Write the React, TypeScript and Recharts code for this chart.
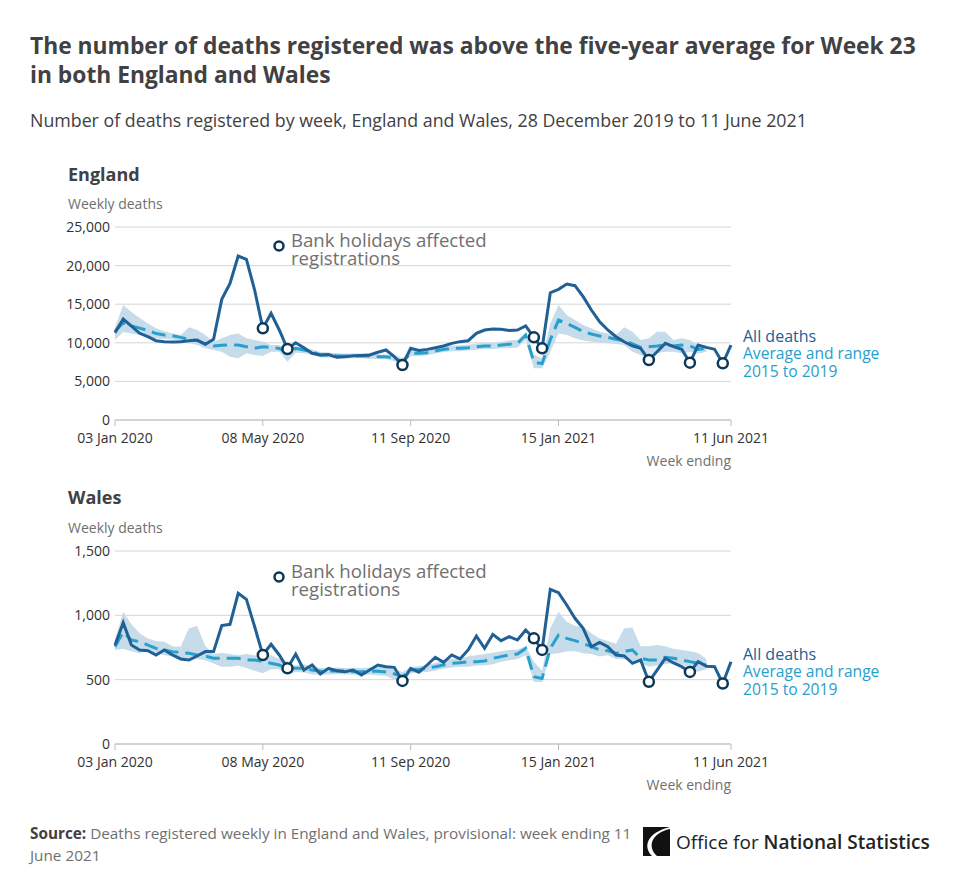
import React from "react";
import {
  ComposedChart,
  Line,
  Area,
  XAxis,
  YAxis,
  CartesianGrid,
} from "recharts";

// week ending dates, 03 Jan 2020 .. 11 Jun 2021 (76 weeks)
const MONTHS = ["Jan", "Feb", "Mar", "Apr", "May", "Jun", "Jul", "Aug", "Sep", "Oct", "Nov", "Dec"];
const weeks: string[] = Array.from({ length: 76 }, (_, i) => {
  const d = new Date(Date.UTC(2020, 0, 3 + i * 7));
  return `${String(d.getUTCDate()).padStart(2, "0")} ${MONTHS[d.getUTCMonth()]} ${d.getUTCFullYear()}`;
});

const xTicks = ["03 Jan 2020", "08 May 2020", "11 Sep 2020", "15 Jan 2021", "11 Jun 2021"];

// weeks where bank holidays affected registrations (index into weeks)
const bankHolidayWeeks = [18, 21, 35, 51, 52, 65, 70, 74];

const englandAll = [
  11300, 13080, 12170, 11230, 10790, 10270, 10140, 10100, 10140, 10270,
  10360, 9800, 10450, 15630, 17700, 21240, 20800, 16840, 11870, 13820,
  11660, 9200, 10010, 9370, 8640, 8420, 8480, 8120, 8200, 8330,
  8370, 8420, 8770, 9070, 8200, 7120, 9280, 9000, 9150, 9370,
  9590, 9930, 10150, 10270, 11230, 11660, 11790, 11750, 11600, 11660,
  12180, 10710, 9280, 16490, 16920, 17620, 17400, 15970, 14250, 12730,
  11660, 10790, 10140, 9590, 9280, 7770, 8850, 9930, 9500, 9150,
  7430, 9710, 9410, 9150, 7340, 9710,
];

const englandAvg = [
  11500, 12600, 12200, 11900, 11600, 11200, 11000, 10900, 10700, 10450,
  10280, 9850, 9600, 9670, 9720, 9720, 9500, 9280, 9500, 9400,
  9280, 8640, 9280, 9070, 8850, 8420, 8420, 8330, 8290, 8290,
  8290, 8290, 8200, 8200, 8000, 7550, 8640, 8640, 8720, 8940,
  9150, 9280, 9280, 9370, 9500, 9580, 9580, 9720, 9800, 9900,
  11000, 7500, 7300, 10400, 12950, 12520, 12000, 11440, 11140, 10880,
  10700, 10450, 10280, 9850, 9410, 9500, 9580, 9720, 9580, 9720,
  9580, 9150, 9280, null, null, null,
];

const englandMin = [
  10400, 11400, 11200, 11000, 10800, 10600, 10500, 10450, 10150, 9930,
  9700, 9280, 9070, 8850, 8200, 8000, 8640, 8420, 8300, 8850,
  8850, 7550, 8720, 8640, 8420, 8100, 8100, 8000, 8000, 8000,
  8000, 7950, 7900, 7900, 7600, 7200, 8300, 8300, 8400, 8600,
  8800, 8900, 8900, 9000, 9100, 9200, 9200, 9300, 9300, 9400,
  10400, 6700, 6700, 8800, 11200, 11000, 10600, 10300, 10150, 10000,
  9930, 9850, 9700, 8850, 8420, 7990, 8640, 8850, 8850, 8640,
  8850, 8600, 8800, null, null, null,
];

const englandMax = [
  12000, 14900, 14000, 13200, 12500, 11900, 11500, 11200, 11000, 12000,
  11650, 11000, 10150, 10600, 11000, 11200, 10600, 10360, 10150, 9720,
  9720, 9070, 9580, 9280, 9150, 8800, 8750, 8650, 8600, 8600,
  8600, 8650, 8500, 8500, 8450, 8000, 9000, 9000, 9050, 9300,
  9500, 9650, 9650, 9750, 9900, 10000, 10000, 10150, 10300, 10400,
  11300, 8500, 8000, 12500, 14900, 13600, 12950, 12300, 11900, 11440,
  11200, 11000, 12000, 11440, 10360, 10580, 11440, 11440, 10360, 10580,
  10360, 9700, 9650, null, null, null,
];

const walesAll = [
  769, 943, 769, 731, 725, 692, 731, 692, 661, 653,
  684, 718, 718, 920, 930, 1171, 1124, 912, 692, 775,
  692, 588, 699, 575, 614, 544, 588, 570, 562, 575,
  536, 575, 614, 601, 596, 490, 588, 557, 614, 674,
  635, 692, 661, 731, 839, 744, 852, 803, 834, 808,
  886, 821, 731, 1202, 1176, 1080, 977, 899, 756, 790,
  756, 692, 684, 627, 653, 484, 575, 666, 630, 601,
  560, 640, 605, 601, 470, 640,
];

const walesAvg = [
  756, 870, 808, 795, 769, 743, 731, 718, 710, 705,
  692, 684, 666, 666, 666, 666, 653, 653, 640, 627,
  614, 588, 588, 588, 575, 566, 566, 570, 566, 562,
  562, 566, 566, 560, 545, 523, 575, 580, 588, 601,
  614, 627, 632, 640, 640, 645, 666, 679, 692, 700,
  743, 523, 510, 743, 847, 821, 803, 782, 756, 731,
  725, 705, 718, 731, 666, 653, 653, 674, 666, 653,
  640, 627, 614, null, null, null,
];

const walesMin = [
  731, 740, 720, 705, 725, 705, 690, 680, 650, 650,
  660, 650, 625, 600, 600, 610, 590, 570, 550, 580,
  580, 540, 560, 555, 540, 540, 540, 545, 540, 540,
  535, 540, 535, 530, 500, 484, 550, 555, 560, 570,
  585, 595, 600, 600, 610, 610, 620, 640, 650, 660,
  690, 484, 480, 700, 705, 720, 720, 705, 700, 680,
  690, 660, 660, 640, 630, 600, 610, 620, 630, 620,
  590, 562, 580, null, null, null,
];

const walesMax = [
  808, 1028, 930, 860, 820, 800, 795, 760, 755, 899,
  917, 760, 700, 710, 700, 690, 700, 690, 690, 690,
  660, 640, 610, 620, 600, 590, 590, 595, 590, 590,
  590, 595, 600, 595, 580, 560, 600, 605, 615, 630,
  650, 660, 665, 680, 690, 700, 710, 720, 730, 735,
  760, 640, 570, 900, 1028, 950, 920, 912, 860, 820,
  800, 780, 899, 905, 760, 760, 770, 760, 740, 730,
  720, 707, 660, null, null, null,
];

const englandTicks = [0, 5000, 10000, 15000, 20000, 25000];
const walesTicks = [0, 500, 1000, 1500];

const DARK = "#206095";
const LIGHT = "#27a0cc";
const BAND = "#c6dcea";
const GREY = "#707071";
const TEXT = "#414042";
const FONT = "'Open Sans', sans-serif";

function buildRows(all: number[], avg: (number | null)[], lo: (number | null)[], hi: (number | null)[]) {
  return weeks.map((week, i) => ({
    week,
    all: all[i],
    avg: avg[i],
    range: lo[i] != null && hi[i] != null ? [lo[i], hi[i]] : null,
  }));
}

const fmt = (v: number) => v.toLocaleString("en-GB");

function BankDot(props: any) {
  const { cx, cy, index } = props;
  if (!bankHolidayWeeks.includes(index) || cx == null || cy == null) {
    return <g key={`nd-${index}`} />;
  }
  return (
    <circle
      key={`bh-${index}`}
      cx={cx}
      cy={cy}
      r={5}
      fill="#fff"
      stroke="#0d3754"
      strokeWidth={2.5}
    />
  );
}

// y is the centre of the first line
function Txt({
  x,
  y,
  size,
  color,
  weight,
  lh,
  align,
  children,
}: {
  x: number;
  y: number;
  size: number;
  color: string;
  weight?: number;
  lh?: number;
  align?: "left" | "right";
  children: React.ReactNode;
}) {
  const h = lh ?? Math.round(size * 1.3);
  const style: React.CSSProperties = {
    position: "absolute",
    top: y - h / 2,
    fontSize: size,
    lineHeight: `${h}px`,
    color,
    fontWeight: weight ?? 400,
    whiteSpace: "nowrap",
  };
  if (align === "right") style.right = 960 - x;
  else style.left = x;
  return <div style={style}>{children}</div>;
}

function Panel({
  top,
  rows,
  domainMax,
  ticks,
}: {
  top: number;
  rows: ReturnType<typeof buildRows>;
  domainMax: number;
  ticks: number[];
}) {
  return (
    <div style={{ position: "absolute", left: 0, top }}>
      <ComposedChart
        width={960}
        height={256}
        data={rows}
        margin={{ top: 27, right: 229, bottom: 0, left: 55 }}
      >
        <CartesianGrid vertical={false} stroke="#d6d6d6" />
        <XAxis
          dataKey="week"
          scale="point"
          height={36}
          padding={{ left: 0, right: 0 }}
          ticks={xTicks}
          interval={0}
          tick={{ fontSize: 14, fill: "#323132", fontFamily: FONT }}
          tickLine={{ stroke: "#bdbdbd" }}
          axisLine={{ stroke: "#bdbdbd" }}
          tickSize={6}
          tickMargin={7}
        />
        <YAxis
          width={60}
          domain={[0, domainMax]}
          ticks={ticks}
          tickFormatter={fmt}
          tick={{ fontSize: 14, fill: "#323132", fontFamily: FONT }}
          tickLine={false}
          axisLine={false}
          tickSize={3}
          tickMargin={2}
        />
        <Area
          dataKey="range"
          stroke="none"
          fill={BAND}
          fillOpacity={1}
          isAnimationActive={false}
          activeDot={false}
        />
        <Line
          dataKey="avg"
          stroke={LIGHT}
          strokeWidth={3}
          strokeDasharray="14 7"
          dot={false}
          activeDot={false}
          isAnimationActive={false}
        />
        <Line
          dataKey="all"
          stroke={DARK}
          strokeWidth={3}
          dot={BankDot}
          activeDot={false}
          isAnimationActive={false}
        />
      </ComposedChart>
    </div>
  );
}

function Annotation({ y }: { y: number }) {
  return (
    <>
      <svg style={{ position: "absolute", left: 272, top: y - 7 }} width={14} height={14}>
        <circle cx={7} cy={7} r={4.5} fill="#fff" stroke="#0d3754" strokeWidth={2.5} />
      </svg>
      <Txt x={291} y={y - 6} size={18.6} color={GREY} lh={17.5}>
        Bank holidays affected
        <br />
        registrations
      </Txt>
    </>
  );
}

function Legend({ y }: { y: number }) {
  return (
    <>
      <Txt x={743} y={y} size={16} color={DARK} lh={17}>
        All deaths
      </Txt>
      <Txt x={743} y={y + 18} size={15.6} color={LIGHT} lh={17.5}>
        Average and range
        <br />
        2015 to 2019
      </Txt>
    </>
  );
}

export default function App() {
  const englandRows = buildRows(englandAll, englandAvg, englandMin, englandMax);
  const walesRows = buildRows(walesAll, walesAvg, walesMin, walesMax);

  return (
    <div
      style={{
        position: "absolute",
        left: 0,
        top: 0,
        width: 960,
        height: 889,
        background: "#fff",
        fontFamily: FONT,
      }}
    >
      <Txt x={30} y={45} size={22.8} weight={700} color={TEXT} lh={29}>
        The number of deaths registered was above the five-year average for Week 23
        <br />
        in both England and Wales
      </Txt>
      <Txt x={30} y={120} size={17.8} color={TEXT}>
        Number of deaths registered by week, England and Wales, 28 December 2019 to 11 June 2021
      </Txt>

      <Txt x={68} y={174} size={18} weight={700} color={TEXT}>
        England
      </Txt>
      <Txt x={68} y={204} size={14} color={GREY}>
        Weekly deaths
      </Txt>
      <Panel top={200} rows={englandRows} domainMax={25000} ticks={englandTicks} />
      <Annotation y={246} />
      <Legend y={336} />
      <Txt x={731} y={461} size={14} color={GREY} align="right">
        Week ending
      </Txt>

      <Txt x={68} y={497} size={18} weight={700} color={TEXT}>
        Wales
      </Txt>
      <Txt x={68} y={528} size={14} color={GREY}>
        Weekly deaths
      </Txt>
      <Panel top={524} rows={walesRows} domainMax={1500} ticks={walesTicks} />
      <Annotation y={577} />
      <Legend y={654} />
      <Txt x={731} y={785} size={14} color={GREY} align="right">
        Week ending
      </Txt>

      <Txt x={30} y={833} size={15.3} color={GREY} lh={22}>
        <span style={{ fontWeight: 700, color: TEXT }}>Source:</span> Deaths registered weekly in
        England and Wales, provisional: week ending 11
        <br />
        June 2021
      </Txt>

      <svg style={{ position: "absolute", left: 643, top: 827 }} width={27} height={29}>
        <rect x={0} y={0} width={27} height={29} fill="#111" />
        <path d="M27 2 C 8 6, 4 20, 14 29 L 9 29 C 0 20, 3 6, 27 0 Z" fill="#fff" />
      </svg>
      <Txt x={676} y={842} size={19} color="#222">
        Office for <span style={{ fontWeight: 600 }}>National Statistics</span>
      </Txt>
    </div>
  );
}
